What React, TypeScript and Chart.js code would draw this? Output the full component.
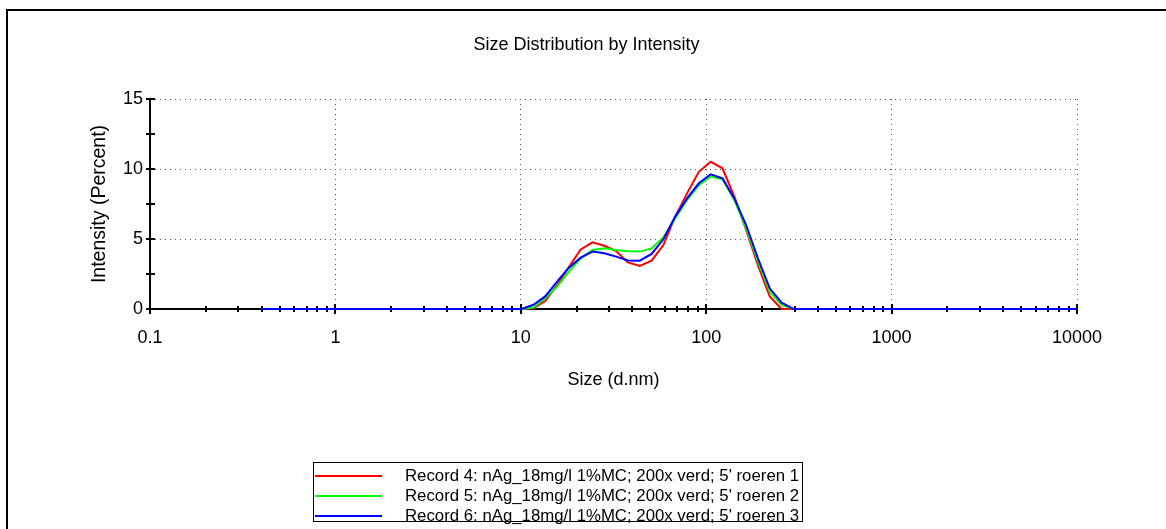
import React, { useEffect, useRef } from "react";
import { Chart, registerables } from "chart.js";

Chart.register(...registerables);

// ---- data ----
const sizes = [
  0.4, 0.4632, 0.5365, 0.6213, 0.7195, 0.8332, 0.9649, 1.117, 1.294, 1.499,
  1.736, 2.01, 2.328, 2.696, 3.122, 3.615, 4.187, 4.849, 5.615, 6.503,
  7.531, 8.721, 10.1, 11.7, 13.54, 15.69, 18.17, 21.04, 24.36, 28.21,
  32.67, 37.84, 43.82, 50.75, 58.77, 68.06, 78.82, 91.28, 105.7, 122.4,
  141.8, 164.2, 190.1, 220.2, 255.0, 295.3, 342.0, 396.1, 458.7, 531.2,
  615.1, 712.4, 825.0, 955.4, 1106, 1281, 1484, 1718, 1990, 2305,
  2669, 3091, 3580, 4145, 4801, 5560, 6439, 7456, 8635, 10000,
];

const record4 = [
  0, 0, 0, 0, 0, 0, 0, 0, 0, 0,
  0, 0, 0, 0, 0, 0, 0, 0, 0, 0,
  0, 0, 0, 0.05, 0.57, 1.7, 3.0, 4.25, 4.76, 4.52,
  4.14, 3.33, 3.07, 3.45, 4.57, 6.6, 8.26, 9.8, 10.52, 10.05,
  8.02, 5.64, 3.14, 0.9, 0, 0, 0, 0, 0, 0,
  0, 0, 0, 0, 0, 0, 0, 0, 0, 0,
  0, 0, 0, 0, 0, 0, 0, 0, 0, 0,
];

const record5 = [
  0, 0, 0, 0, 0, 0, 0, 0, 0, 0,
  0, 0, 0, 0, 0, 0, 0, 0, 0, 0,
  0, 0, 0, 0.1, 0.76, 1.6, 2.67, 3.62, 4.21, 4.33,
  4.21, 4.12, 4.1, 4.33, 5.12, 6.48, 7.79, 8.85, 9.47, 9.26,
  7.79, 5.76, 3.38, 1.24, 0.29, 0, 0, 0, 0, 0,
  0, 0, 0, 0, 0, 0, 0, 0, 0, 0,
  0, 0, 0, 0, 0, 0, 0, 0, 0, 0,
];

const record6 = [
  0, 0, 0, 0, 0, 0, 0, 0, 0, 0,
  0, 0, 0, 0, 0, 0, 0, 0, 0, 0,
  0, 0, 0, 0.3, 0.9, 1.95, 2.95, 3.67, 4.1, 3.98,
  3.74, 3.47, 3.45, 3.93, 4.98, 6.6, 7.9, 8.98, 9.62, 9.33,
  7.9, 6.0, 3.62, 1.48, 0.45, 0, 0, 0, 0, 0,
  0, 0, 0, 0, 0, 0, 0, 0, 0, 0,
  0, 0, 0, 0, 0, 0, 0, 0, 0, 0,
];

const seriesLabels = [
  "Record 4: nAg_18mg/l 1%MC; 200x verd; 5' roeren 1",
  "Record 5: nAg_18mg/l 1%MC; 200x verd; 5' roeren 2",
  "Record 6: nAg_18mg/l 1%MC; 200x verd; 5' roeren 3",
];

const xMajorTicks = [0.1, 1, 10, 100, 1000, 10000];
const xTickLabels = ["0.1", "1", "10", "100", "1000", "10000"];
const xMinorTicks = [
  0.2, 0.3, 0.4, 0.5, 0.6, 0.7, 0.8, 0.9,
  2, 3, 4, 5, 6, 7, 8, 9,
  20, 30, 40, 50, 60, 70, 80, 90,
  200, 300, 400, 500, 600, 700, 800, 900,
  2000, 3000, 4000, 5000, 6000, 7000, 8000, 9000,
];
const yMajorTicks = [0, 5, 10, 15];
const yTickLabels = ["0", "5", "10", "15"];
const yMinorTicks = [2.5, 7.5, 12.5];

const FONT = "'Liberation Sans', Arial, sans-serif";

const axesPlugin = {
  id: "crossAxes",
  beforeDatasetsDraw(chart: any) {
    const { ctx } = chart;
    const xs = chart.scales.x;
    const ys = chart.scales.y;
    const y0 = Math.round(ys.getPixelForValue(0));
    const yTop = Math.round(ys.getPixelForValue(15));
    const x0 = Math.round(xs.getPixelForValue(0.1));
    const xEnd = Math.round(xs.getPixelForValue(10000));
    ctx.save();
    ctx.strokeStyle = "#000";
    ctx.lineWidth = 2;
    ctx.beginPath();
    ctx.moveTo(x0, yTop);
    ctx.lineTo(x0, y0 + 1);
    ctx.moveTo(x0 - 1, y0);
    ctx.lineTo(xEnd + 1, y0);
    xMajorTicks.forEach((v) => {
      const px = Math.round(xs.getPixelForValue(v));
      ctx.moveTo(px, y0 - 5);
      ctx.lineTo(px, y0 + 5);
    });
    xMinorTicks.forEach((v) => {
      const px = Math.round(xs.getPixelForValue(v));
      ctx.moveTo(px, y0 - 3);
      ctx.lineTo(px, y0 + 3);
    });
    [...yMajorTicks, ...yMinorTicks].forEach((v) => {
      const py = Math.round(ys.getPixelForValue(v));
      ctx.moveTo(x0 - 4, py);
      ctx.lineTo(x0 + 5, py);
    });
    ctx.stroke();
    ctx.restore();
  },
};

const boxLegendPlugin = {
  id: "boxLegend",
  afterDraw(chart: any) {
    const { ctx } = chart;
    const ds = chart.data.datasets;
    ctx.save();
    ctx.font = `16.8px ${FONT}`;
    const left = 313;
    const top = 462;
    const rowH = 20;
    const firstRow = 14;
    const lineStart = left + 2;
    const lineLen = 67;
    const textX = 405;
    let maxW = 0;
    ds.forEach((d: any) => {
      maxW = Math.max(maxW, ctx.measureText(d.label).width);
    });
    const right = Math.round(textX + maxW + 3);
    const bottom = top + firstRow + rowH * (ds.length - 1) + 5;
    ctx.strokeStyle = "#000";
    ctx.lineWidth = 1;
    ctx.strokeRect(left + 0.5, top + 0.5, right - left, bottom - top);
    ds.forEach((d: any, i: number) => {
      const cy = top + firstRow + i * rowH;
      ctx.strokeStyle = d.borderColor;
      ctx.lineWidth = 2;
      ctx.beginPath();
      ctx.moveTo(lineStart, cy);
      ctx.lineTo(lineStart + lineLen, cy);
      ctx.stroke();
      ctx.fillStyle = "#000";
      ctx.textBaseline = "middle";
      ctx.textAlign = "left";
      ctx.fillText(d.label, textX, cy);
    });
    ctx.restore();
  },
};

export default function App() {
  const canvasRef = useRef<HTMLCanvasElement | null>(null);

  useEffect(() => {
    if (!canvasRef.current) return;
    Chart.defaults.font.family = FONT;
    Chart.defaults.color = "#000";

    const mk = (vals: number[]) => sizes.map((s, i) => ({ x: s, y: vals[i] }));

    const chart = new Chart(canvasRef.current, {
      type: "line",
      data: {
        datasets: [
          {
            label: seriesLabels[0],
            data: mk(record4),
            borderColor: "#ff0000",
            borderWidth: 2,
            pointRadius: 0,
            tension: 0,
            fill: false,
            order: 2,
            clip: false as any,
          },
          {
            label: seriesLabels[1],
            data: mk(record5),
            borderColor: "#00ff00",
            borderWidth: 2,
            pointRadius: 0,
            tension: 0,
            fill: false,
            order: 1,
            clip: false as any,
          },
          {
            label: seriesLabels[2],
            data: mk(record6),
            borderColor: "#0000ff",
            borderWidth: 2,
            pointRadius: 0,
            tension: 0,
            fill: false,
            order: 0,
            clip: false as any,
          },
        ],
      },
      options: {
        animation: false,
        responsive: false,
        devicePixelRatio: 1,
        events: [],
        layout: { padding: { left: 7, right: 0, top: 0, bottom: 120 } },
        plugins: {
          legend: { display: false },
          tooltip: { enabled: false },
          title: {
            display: true,
            text: "Size Distribution by Intensity",
            color: "#000",
            font: { size: 18, weight: "normal" as any, family: FONT },
            padding: { top: 34, bottom: 43.4 },
          },
        },
        scales: {
          x: {
            type: "logarithmic",
            position: "bottom",
            min: 0.1,
            max: 10000,
            afterBuildTicks: (scale: any) => {
              scale.ticks = xMajorTicks.map((v) => ({ value: v }));
            },
            afterFit: (scale: any) => {
              scale.height = 100;
            },
            ticks: {
              autoSkip: false,
              maxRotation: 0,
              padding: 18,
              color: "#000",
              font: { size: 18, family: FONT },
              callback: (_v: any, i: number) => xTickLabels[i],
            },
            grid: {
              display: true,
              drawTicks: false,
              color: "#555",
              lineWidth: 1,
            },
            border: { display: false, dash: [1, 4] },
            title: {
              display: true,
              text: "Size (d.nm)",
              color: "#000",
              font: { size: 18, family: FONT },
              padding: { top: 0, bottom: 18 },
            },
          },
          y: {
            type: "linear",
            position: "left",
            min: 0,
            max: 15,
            afterBuildTicks: (scale: any) => {
              scale.ticks = yMajorTicks.map((v) => ({ value: v }));
            },
            afterFit: (scale: any) => {
              scale.width = 143;
            },
            ticks: {
              padding: 7,
              color: "#000",
              font: { size: 18, family: FONT },
              callback: (_v: any, i: number) => yTickLabels[i],
            },
            grid: {
              display: true,
              drawTicks: false,
              color: "#555",
              lineWidth: 1,
            },
            border: { display: false, dash: [1, 4] },
            title: {
              display: true,
              text: "Intensity (Percent)",
              color: "#000",
              font: { size: 19.5, family: FONT },
              padding: { top: 81, bottom: 0 },
            },
          },
          yRight: {
            type: "linear",
            position: "right",
            display: true,
            afterFit: (scale: any) => {
              scale.width = 89;
            },
            ticks: { display: false },
            grid: { display: false, drawTicks: false },
            border: { display: false },
          },
        },
      },
      plugins: [axesPlugin, boxLegendPlugin],
    } as any);

    return () => {
      chart.destroy();
    };
  }, []);

  return (
    <>
      <div
        style={{
          position: "fixed",
          left: 6,
          top: 9,
          right: 0,
          bottom: 0,
          borderTop: "2px solid #000",
          borderLeft: "2px solid #000",
          background: "#fff",
        }}
      />
      <canvas
        ref={canvasRef}
        width={1166}
        height={529}
        style={{
          position: "fixed",
          left: 0,
          top: 0,
          width: 1166,
          height: 529,
          display: "block",
        }}
      />
    </>
  );
}
